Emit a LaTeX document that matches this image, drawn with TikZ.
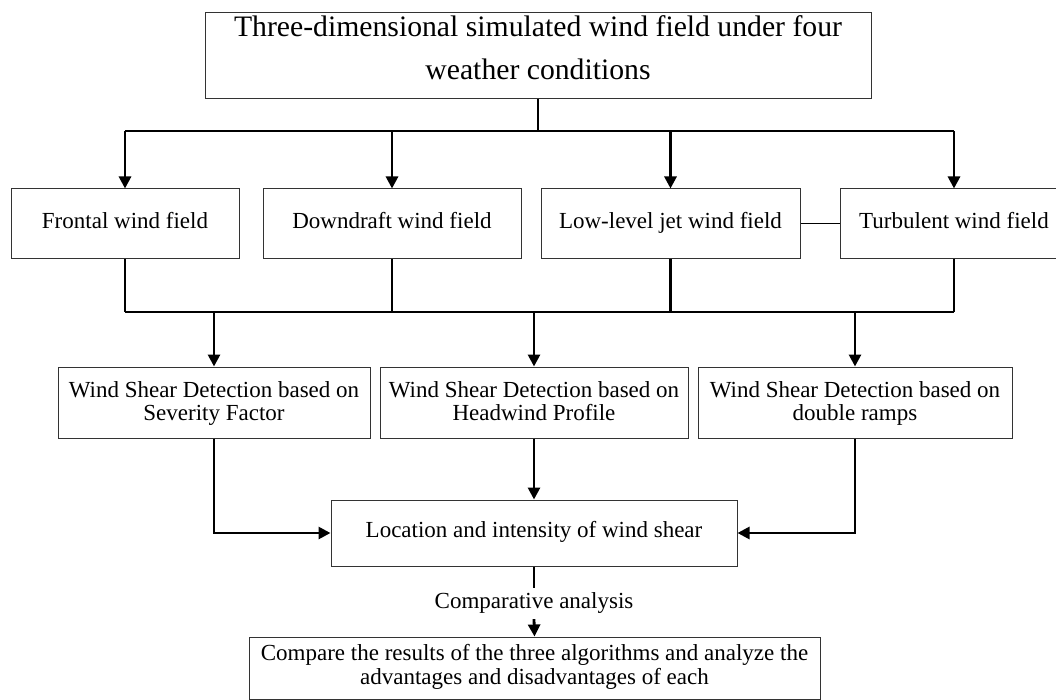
\documentclass[tikz,border=0pt]{standalone}
\usepackage{fontspec}
\setmainfont{Liberation Serif}
\usepackage{tikz}
\usetikzlibrary{arrows.meta}
\newcommand{\uprule}[1]{\rule{0pt}{#1}}
\newcommand{\dnrule}[1]{\rule[-#1]{0pt}{#1}}

\begin{document}
\begin{tikzpicture}[x=1pt,y=-1pt,
    box/.style={draw=black!80,line width=1pt,align=center,inner sep=0pt,
      font=\fontsize{23}{23}\selectfont},
    bus/.style={line width=2.8pt},
    arr/.style={-{Triangle[length=12pt,width=12pt]}}]
  \clip (0,0) rectangle (1056,700);
  \node[box,minimum width=666,minimum height=86,font=\fontsize{29.7}{43}\selectfont]
    (top) at (538,56) {\uprule{21pt}Three-dimensional simulated wind field under four\\weather conditions\dnrule{16pt}};
  \node[box,minimum width=228,minimum height=70] (frontal) at (125,224) {\strut Frontal wind field};
  \node[box,minimum width=258,minimum height=70] (downdraft) at (392,224) {\strut Downdraft wind field};
  \node[box,minimum width=259,minimum height=70] (lowlevel) at (670.5,224) {\strut Low-level jet wind field};
  \node[box,minimum width=228,minimum height=70] (turb) at (954,224) {\strut Turbulent wind field};
  \node[box,minimum width=312,minimum height=71] (sev) at (214,402.5) {\uprule{19pt}Wind Shear Detection based on\\Severity Factor\strut};
  \node[box,minimum width=308,minimum height=71] (head) at (534,402.5) {\uprule{19pt}Wind Shear Detection based on\\Headwind Profile\strut};
  \node[box,minimum width=314,minimum height=71] (dbl) at (855,402.5) {\uprule{19pt}Wind Shear Detection based on\\double ramps\strut};
  \node[box,minimum width=406,minimum height=66] (loc) at (534,533) {\strut Location and intensity of wind shear};
  \node[font=\fontsize{23}{23}\selectfont,inner sep=4pt] (cmp) at (534,603.4) {\strut Comparative analysis};
  \node[box,minimum width=571,minimum height=62] (res) at (534.5,668)
    {\strut Compare the results of the three algorithms and analyze the\\advantages and disadvantages of each\strut};
  \coordinate (b1) at (538,131);
  \coordinate (b2) at (534,312);
  \draw[bus] (top.south) -- (b1);
  \draw[bus] (frontal.north |- b1) -- (turb.north |- b1);
  \foreach \n in {frontal,downdraft,lowlevel,turb}
    \draw[bus,arr] (\n.north |- b1) -- (\n.north);
  \draw[line width=1pt] (lowlevel.east) -- (turb.west);
  \foreach \n in {frontal,downdraft,lowlevel,turb}
    \draw[bus] (\n.south) -- (\n.south |- b2);
  \draw[bus] (frontal.south |- b2) -- (turb.south |- b2);
  \foreach \n in {sev,head,dbl}
    \draw[bus,arr] (\n.north |- b2) -- (\n.north);
  \draw[bus,arr] (sev.south) |- (loc.west);
  \draw[bus,arr] (head.south) -- (loc.north);
  \draw[bus,arr] (dbl.south) |- (loc.east);
  \draw[bus] (loc.south) -- (cmp.north);
  \draw[bus,arr] (cmp.south) -- (res.north);
\end{tikzpicture}
\end{document}
